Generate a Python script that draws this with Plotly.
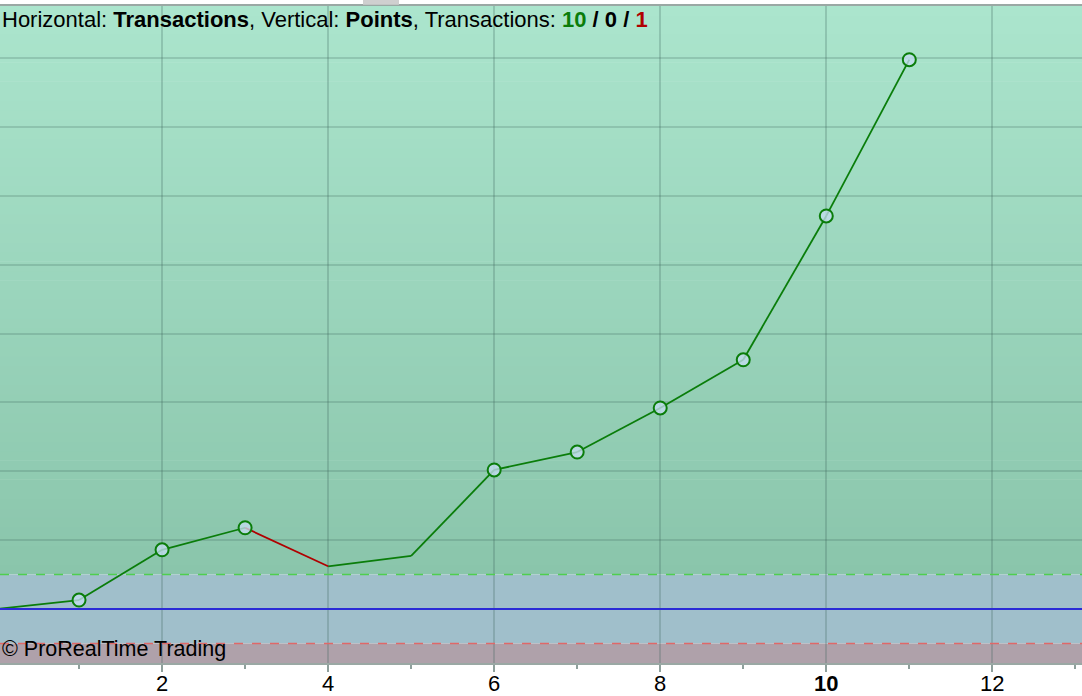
import plotly.graph_objects as go

# equity curve in points after each transaction
trades = [0, 1, 2, 3, 4, 5, 6, 7, 8, 9, 10, 11]
points = [0, 13, 86, 118, 62, 77, 202, 228, 292, 362, 571, 798]
x_ticks = [2, 4, 6, 8, 10, 12]
x_tick_text = ["2", "4", "6", "8", "<b>10</b>", "12"]
upper_band = 50
lower_band = -50

Y_MIN, Y_MAX = -78.5, 876
X_MIN, X_MAX = 0.048, 13.08

fig = go.Figure()

# gradient background for the green zone (stacked thin bands)
def mix(c1, c2, t):
    return "rgb(%d,%d,%d)" % tuple(round(a + (b - a) * t) for a, b in zip(c1, c2))

top_col = (171, 229, 205)
bot_col = (138, 197, 171)
p_lo = (upper_band - Y_MIN) / (Y_MAX - Y_MIN)
n = 60
for i in range(n):
    y0 = p_lo + (1 - p_lo) * i / n
    y1 = p_lo + (1 - p_lo) * (i + 1) / n + 0.001
    fig.add_shape(type="rect", xref="paper", yref="paper", x0=0, x1=1, y0=y0, y1=min(y1, 1),
                  fillcolor=mix(bot_col, top_col, (i + 0.5) / n), line_width=0, layer="below")

fig.add_shape(type="rect", xref="paper", yref="y", x0=0, x1=1, y0=lower_band, y1=upper_band,
              fillcolor="#a0bfcb", line_width=0, layer="below")
fig.add_shape(type="rect", xref="paper", yref="y", x0=0, x1=1, y0=Y_MIN, y1=lower_band,
              fillcolor="#afa1aa", line_width=0, layer="below")

# zero line and bands
fig.add_hline(y=0, line_color="#2b2bd6", line_width=2)
fig.add_hline(y=upper_band, line_color="#4fcf4f", line_width=1.5, line_dash="dash")
fig.add_hline(y=lower_band, line_color="#e06868", line_width=1.5, line_dash="dash")

# split segments into winning (green) and losing (red)
gx, gy, rx, ry = [], [], [], []
for i in range(1, len(trades)):
    seg_x = [trades[i - 1], trades[i], None]
    seg_y = [points[i - 1], points[i], None]
    if points[i] >= points[i - 1]:
        gx += seg_x
        gy += seg_y
    else:
        rx += seg_x
        ry += seg_y

fig.add_trace(go.Scatter(x=gx, y=gy, mode="lines", line=dict(color="#0a7d0a", width=1.8),
                         hoverinfo="skip"))
fig.add_trace(go.Scatter(x=rx, y=ry, mode="lines", line=dict(color="#b00000", width=1.8),
                         hoverinfo="skip"))

# markers on new equity highs
hx, hy = [], []
best = points[0]
for t, p in zip(trades[1:], points[1:]):
    if p > best:
        hx.append(t)
        hy.append(p)
        best = p
fig.add_trace(go.Scatter(x=hx, y=hy, mode="markers",
                         marker=dict(size=13, color="rgba(195,220,240,0.78)",
                                     line=dict(color="#0a7d0a", width=2))))

fig.add_annotation(xref="paper", yref="paper", x=0.0, y=1, xanchor="left", yanchor="top",
                   yshift=1, showarrow=False,
                   font=dict(family="Liberation Sans", size=22, color="black"),
                   text="Horizontal: <b>Transactions</b>, Vertical: <b>Points</b>, Transactions: "
                        "<b><span style='color:#0a7d0a'>10</span> / 0 / "
                        "<span style='color:#b00000'>1</span></b>")
fig.add_annotation(xref="paper", yref="paper", x=0, y=0, xanchor="left", yanchor="bottom",
                   showarrow=False, font=dict(family="Liberation Sans", size=21.5, color="black"),
                   text="© ProRealTime Trading")

# small tab above the plot
fig.add_shape(type="rect", xref="paper", yref="paper", x0=363 / 1082, x1=399 / 1082,
              y0=1.002, y1=1.01, fillcolor="#cfcfcf", line_width=0)

fig.update_layout(
    width=1082, height=696, autosize=False,
    margin=dict(l=0, r=0, t=6, b=33, pad=0),
    paper_bgcolor="white", plot_bgcolor="rgba(0,0,0,0)",
    showlegend=False, hovermode=False,
    xaxis=dict(range=[X_MIN, X_MAX], tickmode="array", tickvals=x_ticks, ticktext=x_tick_text,
               automargin=False,
               showgrid=True, gridcolor="rgba(60,100,90,0.25)", gridwidth=1.5,
               zeroline=False, showline=True, linecolor="#9aa8a4", linewidth=1.5, mirror=True,
               ticks="outside", ticklen=7, tickcolor="#8fa09c", tickwidth=1.5,
               minor=dict(dtick=1, tick0=1, ticks="outside", ticklen=4, tickcolor="#8fa09c", showgrid=False),
               ticklabelstandoff=-7,
               tickfont=dict(family="Liberation Sans", size=22, color="black")),
    yaxis=dict(range=[Y_MIN, Y_MAX], dtick=100, tick0=0, showticklabels=False, automargin=False,
               showgrid=True, gridcolor="rgba(60,100,90,0.22)", gridwidth=2,
               zeroline=False, showline=False, ticks=""),
)

fig.write_html("out.html", config={"displayModeBar": False},
               post_script="document.body.style.margin='0';")
